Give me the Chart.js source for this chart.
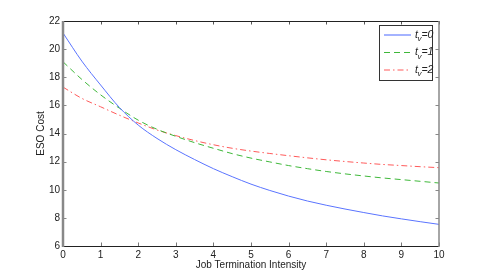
<!DOCTYPE html>
<html>
<head>
<meta charset="utf-8">
<script src="https://cdn.jsdelivr.net/npm/chart.js@4/dist/chart.umd.min.js"></script>
<style>
  html, body { margin: 0; padding: 0; background: #fff; }
  canvas { display: block; }
</style>
</head>
<body>
<canvas id="myChart" width="485" height="277"></canvas>
<script>
// job termination intensity
const xValues = [0, 0.5, 1, 1.5, 2, 2.5, 3, 3.5, 4, 4.5, 5, 5.5, 6, 6.5, 7, 7.5, 8, 8.5, 9, 9.5, 10];
// ESO cost for t_v = 0, 1, 2
const cost0 = [21.15, 19.15, 17.45, 15.85, 14.6, 13.65, 12.85, 12.15, 11.5, 10.93, 10.4, 9.95, 9.55, 9.2, 8.9, 8.63, 8.38, 8.14, 7.93, 7.73, 7.54];
const cost1 = [19.1, 17.85, 16.75, 15.8, 14.95, 14.3, 13.8, 13.35, 12.95, 12.57, 12.25, 11.98, 11.72, 11.5, 11.3, 11.13, 10.98, 10.84, 10.72, 10.6, 10.48];
const cost2 = [17.3, 16.5, 15.9, 15.3, 14.75, 14.25, 13.85, 13.5, 13.2, 12.95, 12.75, 12.58, 12.42, 12.27, 12.13, 12.01, 11.9, 11.8, 11.72, 11.64, 11.57];
const vestLabels = ["0", "1", "2"];

const FONT = "'Liberation Sans', Arial, sans-serif";

const toPoints = (ys) => ys.map((y, i) => ({ x: xValues[i], y }));

// MATLAB style box with inward ticks
const boxPlugin = {
  id: "box",
  afterDatasetsDraw(chart) {
    const { ctx, chartArea: a, scales } = chart;
    const len = 3.5;
    ctx.save();
    ctx.lineWidth = 1;
    scales.x.ticks.forEach((t) => {
      const px = Math.round(scales.x.getPixelForValue(t.value)) + 0.5;
      ctx.strokeStyle = "#777";
      ctx.beginPath();
      ctx.moveTo(px, a.bottom); ctx.lineTo(px, a.bottom - len);
      ctx.stroke();
      ctx.strokeStyle = "#555";
      ctx.beginPath();
      ctx.moveTo(px, a.top); ctx.lineTo(px, a.top + len);
      ctx.stroke();
    });
    scales.y.ticks.forEach((t) => {
      const py = Math.round(scales.y.getPixelForValue(t.value)) + 0.5;
      ctx.strokeStyle = "#888";
      ctx.beginPath();
      ctx.moveTo(a.left, py); ctx.lineTo(a.left + len, py);
      ctx.moveTo(a.right, py); ctx.lineTo(a.right - len, py);
      ctx.stroke();
    });
    ctx.strokeStyle = "#222";
    ctx.beginPath();
    ctx.moveTo(a.left, a.top + 0.5); ctx.lineTo(a.right, a.top + 0.5);
    ctx.moveTo(a.left, a.bottom + 0.5); ctx.lineTo(a.right, a.bottom + 0.5);
    ctx.stroke();
    ctx.strokeStyle = "#888";
    ctx.lineWidth = 2.5;
    ctx.beginPath();
    ctx.moveTo(a.left, a.top); ctx.lineTo(a.left, a.bottom + 1);
    ctx.stroke();
    ctx.lineWidth = 1.5;
    ctx.beginPath();
    ctx.moveTo(a.right, a.top); ctx.lineTo(a.right, a.bottom + 1);
    ctx.stroke();
    ctx.restore();
  },
};

// legend box with subscript labels
const legendPlugin = {
  id: "subLegend",
  afterDraw(chart) {
    const { ctx } = chart;
    const x0 = 379.5, y0 = 25.5, w = 53, h = 55;
    ctx.save();
    ctx.fillStyle = "#fff";
    ctx.fillRect(x0, y0, w, h);
    ctx.strokeStyle = "#333";
    ctx.lineWidth = 1;
    ctx.strokeRect(x0, y0, w, h);
    chart.data.datasets.forEach((ds, i) => {
      const y = 35 + i * 17.5;
      ctx.strokeStyle = ds.borderColor;
      ctx.lineWidth = i === 0 ? 2 : 1;
      ctx.globalAlpha = i === 0 ? 0.55 : 1;
      ctx.setLineDash(ds.borderDash || []);
      ctx.beginPath();
      ctx.moveTo(384, y); ctx.lineTo(411, y);
      ctx.stroke();
      ctx.globalAlpha = 1;
      ctx.setLineDash([]);
      const [main, rest] = ds.label.split("_");
      const sub = rest.charAt(0), tail = rest.slice(1);
      ctx.fillStyle = "#222";
      ctx.textBaseline = "middle";
      ctx.font = "italic 10.5px " + FONT;
      let x = 415;
      ctx.fillText(main, x, y);
      x += ctx.measureText(main).width;
      ctx.font = "italic 8px " + FONT;
      ctx.fillText(sub, x - 0.5, y + 4);
      x += ctx.measureText(sub).width - 0.5;
      ctx.font = "italic 10.5px " + FONT;
      ctx.fillText(tail, x, y);
    });
    ctx.restore();
  },
};

new Chart(document.getElementById("myChart"), {
  type: "line",
  data: {
    datasets: [
      {
        label: "t_v=" + vestLabels[0],
        data: toPoints(cost0),
        borderColor: "#5a74ff",
        borderWidth: 1,
      },
      {
        label: "t_v=" + vestLabels[1],
        data: toPoints(cost1),
        borderColor: "#3fb83a",
        borderWidth: 1,
        borderDash: [6, 4],
      },
      {
        label: "t_v=" + vestLabels[2],
        data: toPoints(cost2),
        borderColor: "#ff5a5a",
        borderWidth: 1,
        borderDash: [6, 3, 1.5, 3],
      },
    ],
  },
  options: {
    responsive: false,
    animation: false,
    events: [],
    layout: { padding: { top: 21, right: 46, left: 0, bottom: 0 } },
    elements: {
      point: { radius: 0 },
      line: { cubicInterpolationMode: "monotone", fill: false },
    },
    plugins: { legend: { display: false }, tooltip: { enabled: false } },
    scales: {
      x: {
        type: "linear",
        min: 0,
        max: 10,
        afterFit: (s) => { s.height = 31; },
        grid: { display: false, drawTicks: false },
        border: { display: false },
        ticks: {
          stepSize: 1,
          maxRotation: 0,
          padding: 3,
          color: "#222",
          font: { family: FONT, size: 10 },
        },
        title: {
          display: true,
          text: "Job Termination Intensity",
          color: "#222",
          font: { family: FONT, size: 10 },
          padding: { top: 0, bottom: 5.5 },
        },
      },
      y: {
        min: 6,
        max: 22,
        afterFit: (s) => { s.width = 63; },
        grid: { display: false, drawTicks: false },
        border: { display: false },
        ticks: {
          stepSize: 2,
          padding: 3,
          color: "#222",
          font: { family: FONT, size: 10 },
        },
        title: {
          display: true,
          text: "ESO Cost",
          color: "#222",
          font: { family: FONT, size: 10 },
          padding: { top: 35, bottom: 0 },
        },
      },
    },
  },
  plugins: [boxPlugin, legendPlugin],
});
</script>
</body>
</html>
